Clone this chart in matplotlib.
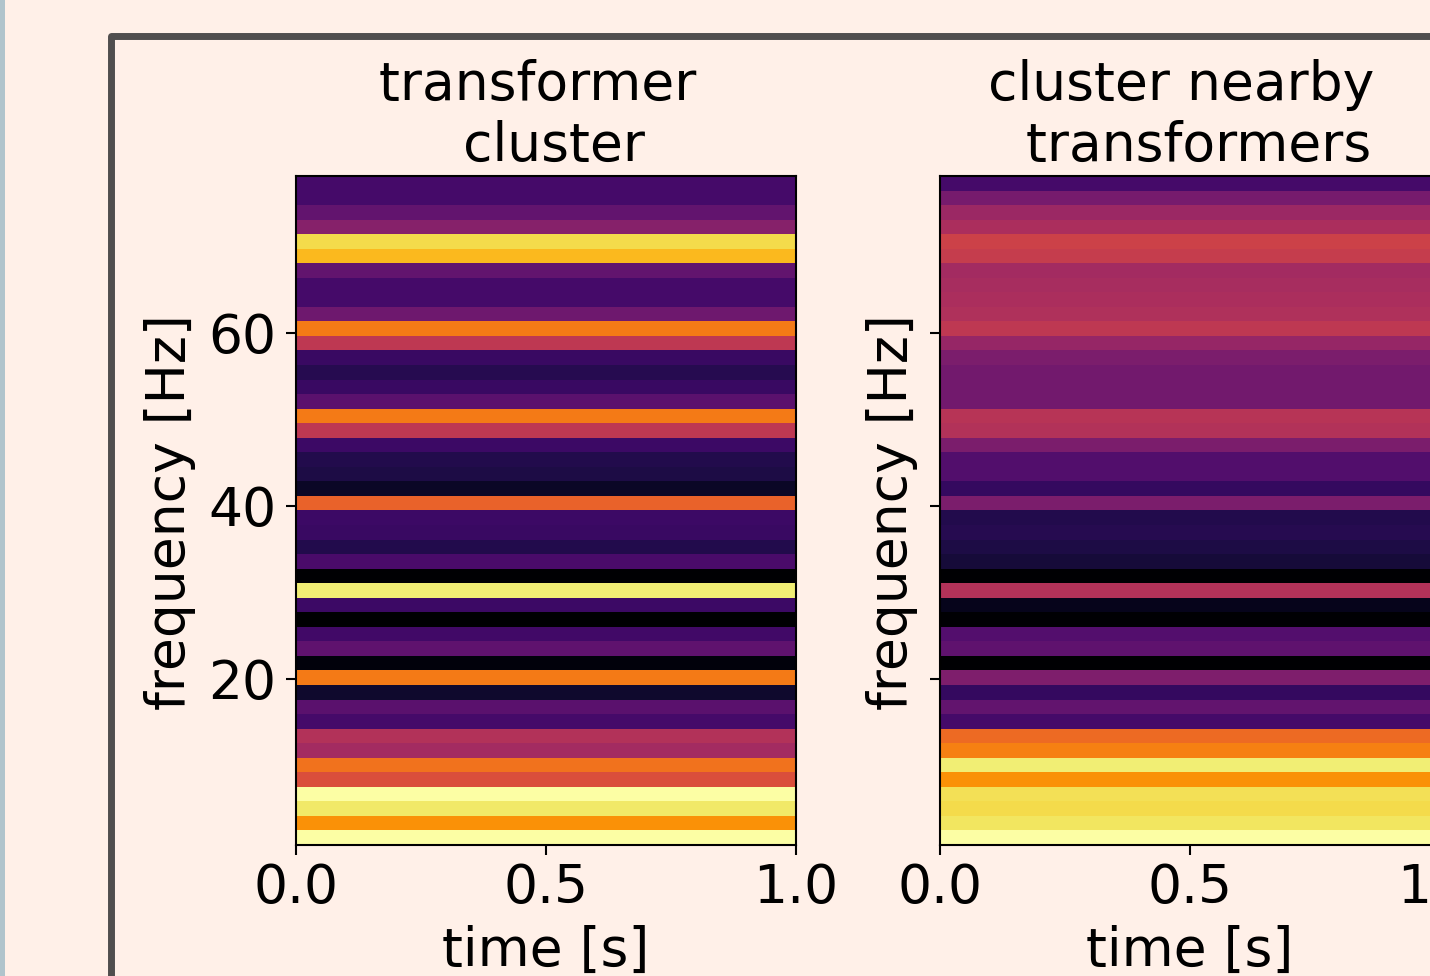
import numpy as np
import matplotlib.pyplot as plt
from matplotlib.patches import Rectangle

# band power per frequency bin, top row (highest frequency) first
cluster_power = [0.21, 0.21, 0.28, 0.37, 0.91, 0.84, 0.28, 0.21, 0.21, 0.31, 0.71, 0.51,
                 0.18, 0.14, 0.18, 0.26, 0.71, 0.51, 0.19, 0.13, 0.12, 0.07, 0.65, 0.19,
                 0.18, 0.13, 0.22, 0.00, 0.95, 0.19, 0.00, 0.20, 0.27, 0.02, 0.71, 0.08,
                 0.26, 0.21, 0.48, 0.44, 0.69, 0.59, 1.00, 0.94, 0.76, 1.00]
nearby_power = [0.21, 0.33, 0.42, 0.46, 0.55, 0.53, 0.44, 0.45, 0.46, 0.47, 0.51, 0.41,
                0.34, 0.32, 0.32, 0.32, 0.49, 0.48, 0.34, 0.24, 0.24, 0.17, 0.34, 0.13,
                0.14, 0.12, 0.10, 0.00, 0.48, 0.05, 0.00, 0.245, 0.27, 0.00, 0.35, 0.17,
                0.28, 0.21, 0.67, 0.72, 0.95, 0.76, 0.92, 0.91, 0.93, 1.00]
titles = ['transformer \n cluster', 'cluster nearby \n transformers']
freq_range = [0.8, 78.15]
time_ticks = [0.0, 0.5, 1.0]
freq_ticks = [20, 40, 60]

W, H = 1430, 976
bg = '#fff0e8'
fs = 38.5

plt.rcParams['font.size'] = fs
fig = plt.figure(figsize=(W / 100, H / 100), dpi=100, facecolor=bg)

# sidebar edge and the dark frame around the panels
fig.patches.append(Rectangle((0, 0), 5 / W, 1, transform=fig.transFigure,
                             facecolor='#b0c4cc', edgecolor='none'))
fig.patches.append(Rectangle((110.5 / W, -0.1), 0.95, 1.1 - 36 / H, transform=fig.transFigure,
                             facecolor='none', edgecolor='#504e4e', linewidth=5,
                             joinstyle='round'))


def panel(left, power, title, show_labels, label_x):
    ax = fig.add_axes([left / W, 1 - 845 / H, 500 / W, 669 / H])
    rows = np.array(power).reshape(-1, 1)
    ax.imshow(rows, cmap='inferno', vmin=0, vmax=1, aspect='auto', interpolation='nearest',
              origin='upper', extent=[0, 1, freq_range[0], freq_range[1]])
    ax.set_title(title, fontsize=fs, pad=10.5, linespacing=1.22)
    ax.set_xticks(time_ticks)
    ax.set_yticks(freq_ticks)
    ax.tick_params(axis='x', width=1.5, length=7, pad=5.5)
    ax.tick_params(axis='y', width=1.5, length=7, pad=7, labelleft=show_labels)
    ax.set_xlabel('time [s]', fontsize=fs)
    ax.set_ylabel('frequency [Hz]', fontsize=fs)
    ax.yaxis.set_label_coords(label_x, 0.498)
    ax.xaxis.set_label_coords(0.5, -0.119)
    for s in ax.spines.values():
        s.set_linewidth(1.5)
    return ax


panel(296, cluster_power, titles[0], True, -0.2)
panel(940, nearby_power, titles[1], False, -0.043)

fig.savefig('out.png', dpi=100, facecolor=bg)
